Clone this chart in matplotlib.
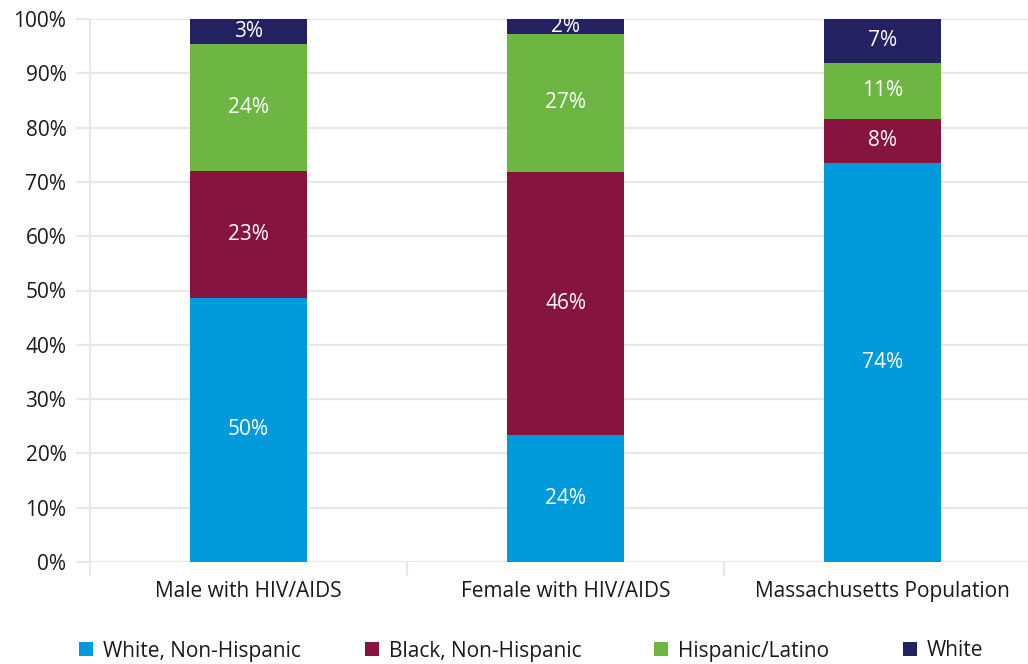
import numpy as np
import matplotlib.pyplot as plt

# ---- data ----
categories = ['Male with HIV/AIDS', 'Female with HIV/AIDS', 'Massachusetts Population']
groups = ['White, Non-Hispanic', 'Black, Non-Hispanic', 'Hispanic/Latino', 'White']

# segment heights (% of bar), bottom to top
white_nh = [48.7, 23.3, 73.5]
black_nh = [23.3, 48.6, 8.1]
hispanic = [23.4, 25.4, 10.3]
white = [4.6, 2.7, 8.1]

# printed labels on the segments
white_nh_lbl = ['50%', '24%', '74%']
black_nh_lbl = ['23%', '46%', '8%']
hispanic_lbl = ['24%', '27%', '11%']
white_lbl = ['3%', '2%', '7%']

colors = ['#009ADA', '#86143F', '#6DB643', '#232161']
grid_col = '#E8E8E8'
text_col = '#1A1A1A'
fs = 15

plt.rcParams['font.family'] = ['Open Sans', 'DejaVu Sans']

fig = plt.figure(figsize=(10.28, 6.64), dpi=100)
ax = fig.add_axes([90 / 1028, 102 / 664, 951 / 1028, 543 / 664])

x = np.arange(len(categories))
series = [white_nh, black_nh, hispanic, white]
labels = [white_nh_lbl, black_nh_lbl, hispanic_lbl, white_lbl]
bottom = np.zeros(len(categories))
handles = []
for vals, lbls, col, name in zip(series, labels, colors, groups):
    bars = ax.bar(x, vals, 0.366, bottom=bottom, color=col, label=name, zorder=3)
    handles.append(bars)
    for xi, b, v, t in zip(x, bottom, vals, lbls):
        ax.text(xi, b + v / 2, t, ha='center', va='center', color='white',
                fontsize=fs, zorder=4)
    bottom = bottom + np.array(vals)

ax.set_xlim(-0.5, 2.5)
ax.set_ylim(0, 100)
ax.set_yticks(np.arange(0, 101, 10))
ax.set_yticklabels([f'{v}%' for v in range(0, 101, 10)])
ax.set_xticks(x)
ax.set_xticklabels(categories)
ax.set_xticks([-0.5, 0.5, 1.5], minor=True)

ax.yaxis.grid(True, color=grid_col, linewidth=1.6, zorder=0)
ax.set_axisbelow(True)
for s in ['top', 'right', 'bottom']:
    ax.spines[s].set_visible(False)
ax.spines['left'].set_color(grid_col)
ax.spines['left'].set_linewidth(1.6)

ax.tick_params(axis='y', length=10, width=1.6, color=grid_col, pad=7,
               labelsize=fs, labelcolor=text_col)
ax.tick_params(axis='x', which='major', length=0, pad=14,
               labelsize=fs, labelcolor=text_col)
ax.tick_params(axis='x', which='minor', length=10, width=1.6, color=grid_col)

# one legend entry per group, placed like the reference
leg_x = [79, 365, 654, 903]
for h, name, lx in zip(handles, groups, leg_x):
    fig.legend([h], [name], loc='center left',
               bbox_to_anchor=(lx / 1028, 13 / 664), borderaxespad=0,
               borderpad=0, frameon=False, fontsize=fs, handlelength=0.65,
               handleheight=0.65, handletextpad=0.5, labelcolor=text_col)

fig.savefig('out.png', dpi=100)
